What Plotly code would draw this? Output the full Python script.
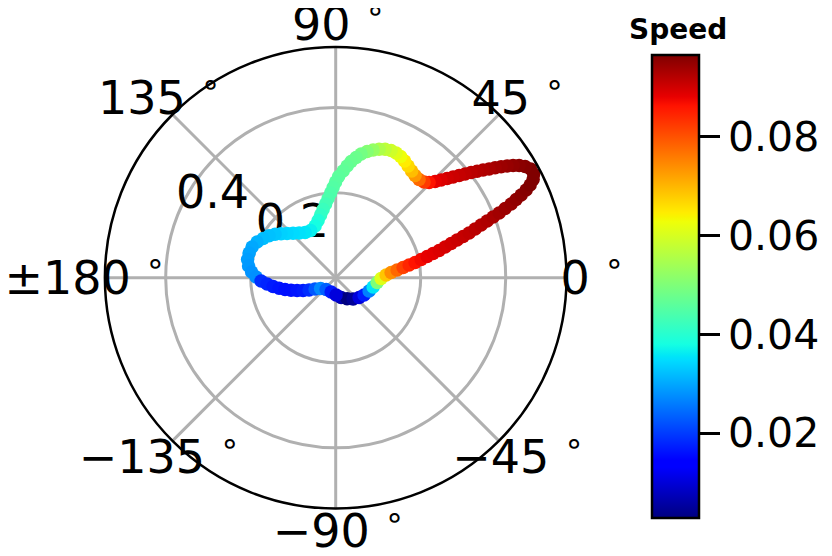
import plotly.graph_objects as go

# ---- data: trajectory (radius, angle in degrees, speed) ----
R = [0.0483, 0.0564, 0.0647, 0.0721, 0.0782, 0.0846, 0.0907, 0.0981, 0.1068, 0.1188,
     0.1309, 0.1456, 0.1604, 0.1753, 0.1902, 0.2055, 0.2208, 0.2361, 0.2516, 0.2674,
     0.2832, 0.2991, 0.3151, 0.3310, 0.3474, 0.3639, 0.3804, 0.3969, 0.4135, 0.4306,
     0.4476, 0.4626, 0.4777, 0.4932, 0.5068, 0.5188, 0.5257, 0.5251, 0.5168, 0.5059,
     0.4939, 0.4814, 0.4686, 0.4556, 0.4424, 0.4295, 0.4164, 0.4035, 0.3902, 0.3770,
     0.3639, 0.3510, 0.3382, 0.3255, 0.3138, 0.3065, 0.3032, 0.3045, 0.3081, 0.3132,
     0.3189, 0.3235, 0.3260, 0.3264, 0.3237, 0.3189, 0.3131, 0.3060, 0.2971, 0.2869,
     0.2758, 0.2642, 0.2517, 0.2382, 0.2252, 0.2123, 0.1997, 0.1872, 0.1750, 0.1632,
     0.1517, 0.1408, 0.1309, 0.1258, 0.1284, 0.1359, 0.1448, 0.1546, 0.1650, 0.1754,
     0.1851, 0.1941, 0.2031, 0.2096, 0.2119, 0.2117, 0.2068, 0.1983, 0.1873, 0.1757,
     0.1621, 0.1487, 0.1355, 0.1223, 0.1090, 0.0957, 0.0824, 0.0690, 0.0553, 0.0437,
     0.0358, 0.0353, 0.0407]

THETA = [-74.7, -61.6, -50.75, -40.2, -31.35, -21.7, -13.96, -6.61, -1.01, 3.07,
         5.36, 7.15, 8.61, 9.82, 10.84, 12.03, 13.06, 13.95, 14.74, 15.68,
         16.51, 17.25, 17.92, 18.52, 19.26, 19.92, 20.53, 21.09, 21.60, 22.22,
         22.79, 23.44, 24.04, 24.73, 25.50, 26.45, 27.65, 29.15, 30.42, 31.46,
         32.31, 33.09, 33.84, 34.58, 35.32, 36.16, 36.96, 37.84, 38.71, 39.63,
         40.62, 41.69, 42.83, 44.06, 45.55, 47.27, 49.66, 52.16, 54.57, 57.05,
         59.44, 61.83, 64.16, 66.47, 68.96, 71.33, 73.68, 76.03, 78.40, 80.37,
         82.45, 84.17, 86.03, 88.36, 90.06, 91.65, 93.45, 95.48, 97.80, 100.47,
         103.54, 107.10, 111.72, 117.99, 124.10, 129.31, 133.81, 137.71, 141.14, 144.39,
         147.82, 151.63, 155.57, 159.83, 164.08, 168.33, 172.35, 176.12, 179.50, -177.47,
         -174.75, -172.00, -169.39, -166.87, -164.34, -161.65, -158.57, -155.19, -151.26, -144.43,
         -129.13, -107.83, -88.68]

SPEED = [0.0066, 0.0028, 0.0047, 0.0103, 0.0169, 0.0263, 0.0356, 0.0497, 0.0610, 0.0685,
         0.0741, 0.0778, 0.0816, 0.0844, 0.0863, 0.0872, 0.0882, 0.0886, 0.0891, 0.0896,
         0.0900, 0.0905, 0.0910, 0.0914, 0.0919, 0.0924, 0.0928, 0.0933, 0.0938, 0.0943,
         0.0947, 0.0952, 0.0957, 0.0961, 0.0966, 0.0966, 0.0966, 0.0966, 0.0961, 0.0957,
         0.0952, 0.0947, 0.0943, 0.0938, 0.0933, 0.0928, 0.0924, 0.0919, 0.0914, 0.0910,
         0.0905, 0.0900, 0.0891, 0.0882, 0.0863, 0.0825, 0.0778, 0.0732, 0.0694, 0.0666,
         0.0647, 0.0628, 0.0610, 0.0591, 0.0572, 0.0553, 0.0525, 0.0506, 0.0488, 0.0478,
         0.0474, 0.0469, 0.0464, 0.0459, 0.0455, 0.0450, 0.0445, 0.0441, 0.0431, 0.0422,
         0.0413, 0.0394, 0.0380, 0.0366, 0.0356, 0.0352, 0.0347, 0.0342, 0.0338, 0.0328,
         0.0323, 0.0319, 0.0309, 0.0300, 0.0295, 0.0291, 0.0286, 0.0281, 0.0277, 0.0187,
         0.0178, 0.0169, 0.0164, 0.0159, 0.0159, 0.0164, 0.0169, 0.0187, 0.0225, 0.0272,
         0.0234, 0.0169, 0.0103]

# ---- axes ticks / labels ----
ANG_TICKS = [0, 45, 90, 135, 180, 225, 270, 315]
ANG_LABELS = ["0 <sup>∘</sup>", "45 <sup>∘</sup>", "90 <sup>∘</sup>", "135 <sup>∘</sup>",
              "±180 <sup>∘</sup>", "−135 <sup>∘</sup>", "−90 <sup>∘</sup>", "−45 <sup>∘</sup>"]
R_TICKS = [0.2, 0.4]
R_LABELS = ["0.2", "0.4"]
CB_TICKS = [0.02, 0.04, 0.06, 0.08]
CB_LABELS = ["0.02", "0.04", "0.06", "0.08"]
CB_TITLE = "Speed"

# ---- styles / geometry (px in the page; the page body adds an 8px margin) ----
W, H = 832, 556
PAGE = 8
CX, CY = 335.7 - PAGE, 277.7 - PAGE   # circle centre
RAD = 230.8                            # outer circle radius
RAD2 = 262.0                           # radius of the overlay label subplot
LBL_DX, LBL_DY = 3.0, 4.5              # text-baseline nudge of the label subplot
R_MAX = 0.543
ANG_LABEL_R = 0.597
R_LABEL_ANGLE = 160
CB_LEFT, CB_TOP, CB_BOTTOM = 652 - PAGE, 55 - PAGE, 518 - PAGE
TITLE_X, TITLE_Y = 678 - PAGE, 30 - PAGE
FONT = "DejaVu Sans"
GRID = "#b0b0b0"

JET = [[0.0, "rgb(0,0,128)"], [0.11, "rgb(0,0,255)"], [0.125, "rgb(0,0,255)"],
       [0.34, "rgb(0,219,255)"], [0.35, "rgb(0,230,247)"], [0.375, "rgb(21,255,226)"],
       [0.64, "rgb(239,255,8)"], [0.65, "rgb(247,245,0)"], [0.66, "rgb(255,236,0)"],
       [0.89, "rgb(255,19,0)"], [0.91, "rgb(232,0,0)"], [1.0, "rgb(128,0,0)"]]


def dom(cx, cy, rad):
    return (dict(x=[(cx - rad) / W, (cx + rad) / W],
                 y=[(H - cy - rad) / H, (H - cy + rad) / H]))


fig = go.Figure()

# radial tick labels (bottom-left anchored at the tick radius)
fig.add_trace(go.Scatterpolar(
    r=R_TICKS, theta=[R_LABEL_ANGLE] * len(R_TICKS), text=R_LABELS,
    mode="text", textposition="top right",
    textfont=dict(family=FONT, size=46, color="black"),
    cliponaxis=False, hoverinfo="skip", showlegend=False, subplot="polar"))

# trajectory coloured by speed
fig.add_trace(go.Scatterpolar(
    r=R, theta=THETA, mode="markers",
    marker=dict(size=13.5, color=SPEED, colorscale=JET,
                cmin=min(SPEED), cmax=max(SPEED), line=dict(width=0),
                showscale=True,
                colorbar=dict(
                    x=CB_LEFT / W, xanchor="left", xpad=0,
                    y=(H - (CB_TOP + CB_BOTTOM) / 2) / H, yanchor="middle", ypad=0,
                    len=(CB_BOTTOM - CB_TOP) / H, lenmode="fraction",
                    thickness=47, thicknessmode="pixels",
                    outlinewidth=2.5, outlinecolor="black",
                    tickmode="array", tickvals=CB_TICKS, ticktext=CB_LABELS,
                    ticks="outside", ticklen=20, tickwidth=2.5, tickcolor="black",
                    tickfont=dict(family=FONT, size=41, color="black"))),
    hoverinfo="skip", showlegend=False, subplot="polar"))

# angular tick labels, centred at a fixed radius outside the circle (overlay subplot)
fig.add_trace(go.Scatterpolar(
    r=[ANG_LABEL_R] * len(ANG_TICKS), theta=ANG_TICKS, text=ANG_LABELS,
    mode="text", textposition="middle center",
    textfont=dict(family=FONT, size=46, color="black"),
    cliponaxis=False, hoverinfo="skip", showlegend=False, subplot="polar2"))

fig.add_annotation(text="<b>" + CB_TITLE + "</b>", xref="paper", yref="paper",
                   x=TITLE_X / W, y=(H - TITLE_Y) / H, xanchor="center", yanchor="middle",
                   showarrow=False, font=dict(family=FONT, size=28, color="black"))

fig.update_layout(
    width=W, height=H,
    margin=dict(l=0, r=0, t=0, b=0, autoexpand=False),
    paper_bgcolor="white", plot_bgcolor="white",
    showlegend=False,
    polar=dict(
        domain=dom(CX, CY, RAD),
        bgcolor="white",
        radialaxis=dict(range=[0, R_MAX], tickmode="array", tickvals=R_TICKS,
                        showticklabels=False, ticks="", showline=False,
                        gridcolor=GRID, gridwidth=2.5),
        angularaxis=dict(rotation=0, direction="counterclockwise",
                         tickmode="array", tickvals=ANG_TICKS,
                         showticklabels=False, ticks="",
                         showline=True, linecolor="black", linewidth=2.5,
                         gridcolor=GRID, gridwidth=2.5),
    ),
    polar2=dict(
        domain=dom(CX + LBL_DX, CY + LBL_DY, RAD2),
        bgcolor="rgba(0,0,0,0)",
        radialaxis=dict(range=[0, R_MAX * RAD2 / RAD], visible=False),
        angularaxis=dict(rotation=0, direction="counterclockwise", visible=False),
    ),
)

fig.write_html("out.html")
